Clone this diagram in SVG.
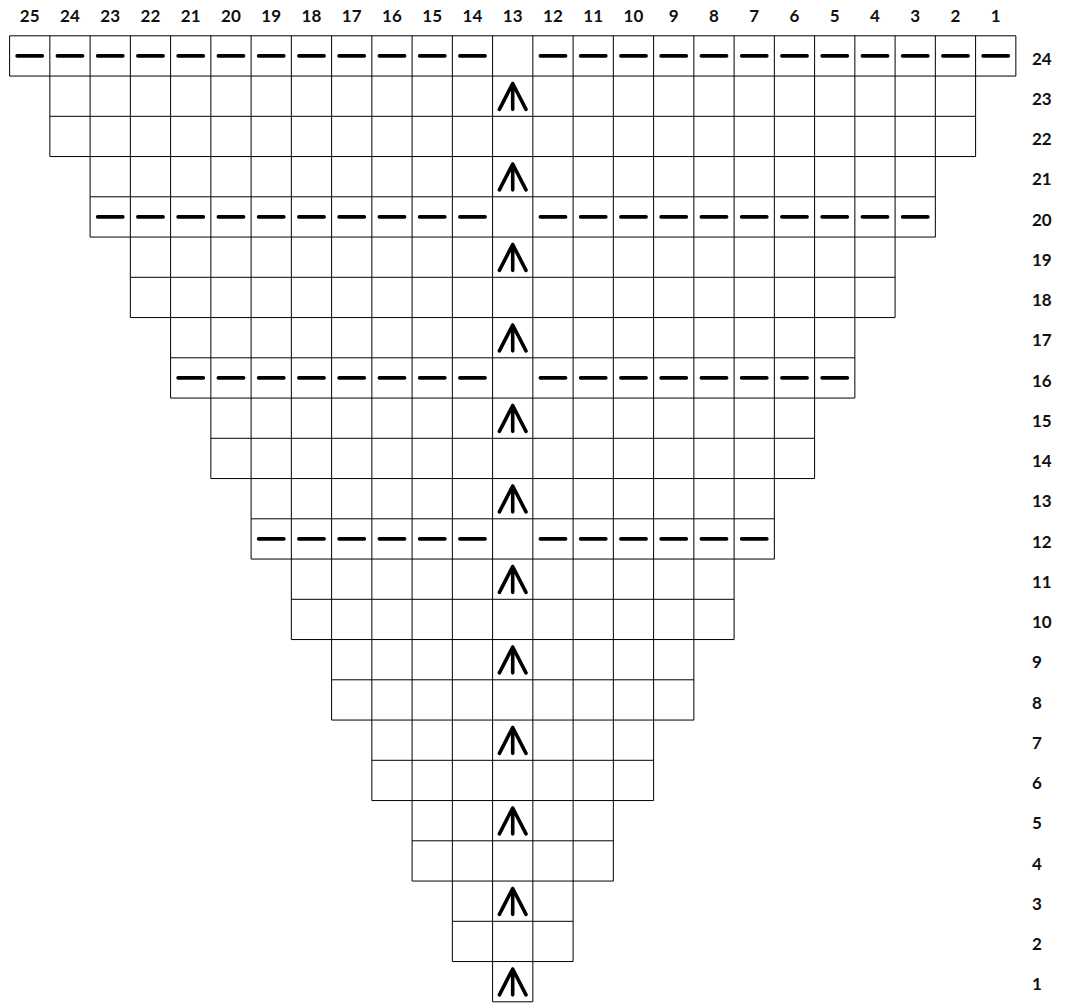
<svg xmlns="http://www.w3.org/2000/svg" xmlns:xlink="http://www.w3.org/1999/xlink" width="1065" height="1005" viewBox="0 0 1065 1005">
<style>
.grid{fill:none;stroke:#000;stroke-width:1}
.dash{fill:none;stroke:#000;stroke-width:3.6;stroke-linecap:round;stroke-dasharray:25.25 15}
.sym{fill:none;stroke:#000;stroke-width:3.6;stroke-linecap:round;stroke-linejoin:round}
.lbl{font-family:Lato,"Open Sans","Liberation Sans",sans-serif;font-weight:700;font-size:17px;fill:#111}
.col{text-anchor:middle}
.row{text-anchor:start}
</style>
<defs>
<path id="arrow" class="sym" d="M6.8 33.3L20.1 7.5L33.4 33.3M20.1 7.5V33.3"/>
</defs>
<rect x="0" y="0" width="1065" height="1005" fill="#fff"/>
<g id="grid" class="grid">
<path d="M9.6 35.8H1015.85M9.6 76.05H1015.85M49.85 116.3H975.6M49.85 156.55H975.6M90.1 196.8H935.35M90.1 237.05H935.35M130.35 277.3H895.1M130.35 317.55H895.1M170.6 357.8H854.85M170.6 398.05H854.85M210.85 438.3H814.6M210.85 478.55H814.6M251.1 518.8H774.35M251.1 559.05H774.35M291.35 599.3H734.1M291.35 639.55H734.1M331.6 679.8H693.85M331.6 720.05H693.85M371.85 760.3H653.6M371.85 800.55H653.6M412.1 840.8H613.35M412.1 881.05H613.35M452.35 921.3H573.1M452.35 961.55H573.1M492.6 1001.8H532.85"/>
<path d="M9.6 35.8V76.05M49.85 35.8V156.55M90.1 35.8V237.05M130.35 35.8V317.55M170.6 35.8V398.05M210.85 35.8V478.55M251.1 35.8V559.05M291.35 35.8V639.55M331.6 35.8V720.05M371.85 35.8V800.55M412.1 35.8V881.05M452.35 35.8V961.55M492.6 35.8V1001.8M532.85 35.8V1001.8M573.1 35.8V961.55M613.35 35.8V881.05M653.6 35.8V800.55M693.85 35.8V720.05M734.1 35.8V639.55M774.35 35.8V559.05M814.6 35.8V478.55M854.85 35.8V398.05M895.1 35.8V317.55M935.35 35.8V237.05M975.6 35.8V156.55M1015.85 35.8V76.05"/>
</g>
<g id="purl-rows">
<g id="row24-purls"><path class="dash" d="M17.1 55.9H485.1"/><path class="dash" d="M540.35 55.9H1008.35"/></g>
<g id="row20-purls"><path class="dash" d="M97.6 216.9H485.1"/><path class="dash" d="M540.35 216.9H927.85"/></g>
<g id="row16-purls"><path class="dash" d="M178.1 377.9H485.1"/><path class="dash" d="M540.35 377.9H847.35"/></g>
<g id="row12-purls"><path class="dash" d="M258.6 538.9H485.1"/><path class="dash" d="M540.35 538.9H766.85"/></g>
</g>
<g id="decreases">
<use href="#arrow" x="492.6" y="76.05"/>
<use href="#arrow" x="492.6" y="156.55"/>
<use href="#arrow" x="492.6" y="237.05"/>
<use href="#arrow" x="492.6" y="317.55"/>
<use href="#arrow" x="492.6" y="398.05"/>
<use href="#arrow" x="492.6" y="478.55"/>
<use href="#arrow" x="492.6" y="559.05"/>
<use href="#arrow" x="492.6" y="639.55"/>
<use href="#arrow" x="492.6" y="720.05"/>
<use href="#arrow" x="492.6" y="800.55"/>
<use href="#arrow" x="492.6" y="881.05"/>
<use href="#arrow" x="492.6" y="961.55"/>
</g>
<g id="column-labels" class="lbl col">
<text x="29.725" y="22">25</text>
<text x="69.975" y="22">24</text>
<text x="110.225" y="22">23</text>
<text x="150.475" y="22">22</text>
<text x="190.725" y="22">21</text>
<text x="230.975" y="22">20</text>
<text x="271.225" y="22">19</text>
<text x="311.475" y="22">18</text>
<text x="351.725" y="22">17</text>
<text x="391.975" y="22">16</text>
<text x="432.225" y="22">15</text>
<text x="472.475" y="22">14</text>
<text x="512.725" y="22">13</text>
<text x="552.975" y="22">12</text>
<text x="593.225" y="22">11</text>
<text x="633.475" y="22">10</text>
<text x="673.725" y="22">9</text>
<text x="713.975" y="22">8</text>
<text x="754.225" y="22">7</text>
<text x="794.475" y="22">6</text>
<text x="834.725" y="22">5</text>
<text x="874.975" y="22">4</text>
<text x="915.225" y="22">3</text>
<text x="955.475" y="22">2</text>
<text x="995.725" y="22">1</text>
</g>
<g id="row-labels" class="lbl row">
<text x="1032" y="64.5">24</text>
<text x="1032" y="104.75">23</text>
<text x="1032" y="145">22</text>
<text x="1032" y="185.25">21</text>
<text x="1032" y="225.5">20</text>
<text x="1032" y="265.75">19</text>
<text x="1032" y="306">18</text>
<text x="1032" y="346.25">17</text>
<text x="1032" y="386.5">16</text>
<text x="1032" y="426.75">15</text>
<text x="1032" y="467">14</text>
<text x="1032" y="507.25">13</text>
<text x="1032" y="547.5">12</text>
<text x="1032" y="587.75">11</text>
<text x="1032" y="628">10</text>
<text x="1032" y="668.25">9</text>
<text x="1032" y="708.5">8</text>
<text x="1032" y="748.75">7</text>
<text x="1032" y="789">6</text>
<text x="1032" y="829.25">5</text>
<text x="1032" y="869.5">4</text>
<text x="1032" y="909.75">3</text>
<text x="1032" y="950">2</text>
<text x="1032" y="990.25">1</text>
</g>
</svg>
